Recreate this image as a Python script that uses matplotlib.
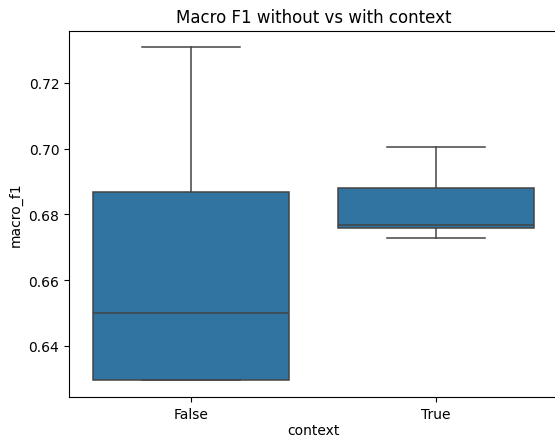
import matplotlib
matplotlib.use("Agg")
import matplotlib.pyplot as plt

# Box summary per context setting
groups = ["False", "True"]
whislo = [0.6296, 0.6729]
q1 = [0.6296, 0.6757]
median = [0.6499, 0.6767]
q3 = [0.6868, 0.6879]
whishi = [0.7307, 0.7004]

stats = [
    dict(label=g, whislo=lo, q1=a, med=m, q3=b, whishi=hi, fliers=[])
    for g, lo, a, m, b, hi in zip(groups, whislo, q1, median, q3, whishi)
]

fig = plt.figure(figsize=(5.55, 4.39), dpi=100)
ax = fig.add_axes([69 / 555, 41 / 439, 489.5 / 555, 366.3 / 439])

line = dict(color="#444444", linewidth=1.1)
ax.bxp(
    stats,
    positions=range(len(groups)),
    widths=0.8,
    patch_artist=True,
    boxprops=dict(facecolor="#3274a1", edgecolor="#444444", linewidth=1.1),
    medianprops=line,
    whiskerprops=line,
    capprops=line,
    capwidths=0.4,
    showfliers=False,
)

ax.set_xlim(-0.5, 1.5)
ax.set_ylim(0.6245, 0.7358)
ax.set_xticks(range(len(groups)))
ax.set_xticklabels(groups)
ax.set_yticks([0.64, 0.66, 0.68, 0.70, 0.72])
ax.set_yticklabels(["0.64", "0.66", "0.68", "0.70", "0.72"])
ax.set_xlabel("context", labelpad=2)
ax.set_ylabel("macro_f1")
ax.set_title("Macro F1 without vs with context")

fig.savefig("out.png", dpi=100)
